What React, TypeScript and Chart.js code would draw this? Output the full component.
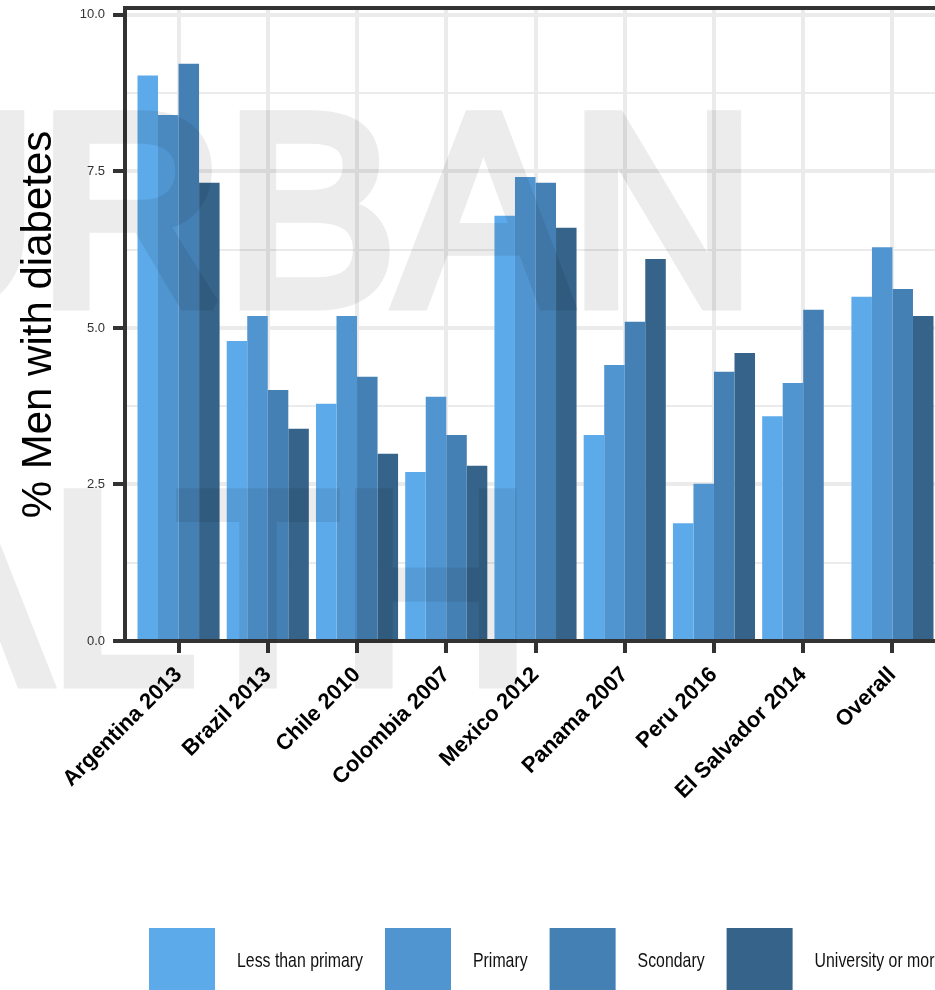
import React, { useEffect, useRef } from 'react';
import { Chart, registerables } from 'chart.js';

Chart.register(...registerables);

const CATEGORIES = [
  'Argentina 2013',
  'Brazil 2013',
  'Chile 2010',
  'Colombia 2007',
  'Mexico 2012',
  'Panama 2007',
  'Peru 2016',
  'El Salvador 2014',
  'Overall',
];
const LESS_THAN_PRIMARY = [9.03, 4.79, 3.79, 2.7, 6.79, 3.29, 1.88, 3.59, 5.5];
const PRIMARY = [8.4, 5.19, 5.19, 3.9, 7.41, 4.41, 2.51, 4.12, 6.29];
const SECONDARY = [9.22, 4.01, 4.22, 3.29, 7.32, 5.1, 4.3, 5.29, 5.62];
const UNIVERSITY = [7.32, 3.39, 2.99, 2.8, 6.6, 6.1, 4.6, null, 5.19];
const SERIES_LABELS = ['Less than primary', 'Primary', 'Scondary', 'University or more'];
const SERIES_COLORS = ['#5DAAEA', '#5095D0', '#4580B5', '#366389'];
const Y_TICKS = [0, 1.25, 2.5, 3.75, 5, 6.25, 7.5, 8.75, 10];
const Y_MAJOR_STEP = 2.5;
const Y_TITLE = '% Men with diabetes';
const WATERMARK_LINES = ['URBAN', 'HEALTH'];

const FONT = "'Liberation Sans', Arial, Helvetica, sans-serif";
const CANVAS_W = 1000;
const CANVAS_H = 990;

const isMajor = (v: number) => Math.abs(v / Y_MAJOR_STEP - Math.round(v / Y_MAJOR_STEP)) < 1e-6;

const legendPlugin = {
  id: 'customLegend',
  afterDraw(chart: any) {
    const ctx = chart.ctx as CanvasRenderingContext2D;
    const box = 66;
    const gap = 22;
    const top = 928;
    const sx = 0.755;
    let x = 149;
    ctx.save();
    ctx.font = `21px ${FONT}`;
    ctx.textBaseline = 'middle';
    ctx.textAlign = 'left';
    chart.data.datasets.forEach((ds: any) => {
      ctx.fillStyle = ds.backgroundColor;
      ctx.fillRect(x, top, box, box);
      x += box + gap;
      const w = ctx.measureText(ds.label).width * sx;
      ctx.save();
      ctx.translate(x, top + box / 2);
      ctx.scale(sx, 1);
      ctx.fillStyle = '#111111';
      ctx.fillText(ds.label, 0, 0);
      ctx.restore();
      x += w + gap;
    });
    ctx.restore();
  },
};

const watermarkPlugin = {
  id: 'watermark',
  afterDraw(chart: any) {
    const ctx = chart.ctx as CanvasRenderingContext2D;
    const off = document.createElement('canvas');
    off.width = chart.width;
    off.height = chart.height;
    const o = off.getContext('2d');
    if (!o) return;
    o.font = `272px ${FONT}`;
    o.textAlign = 'right';
    o.textBaseline = 'alphabetic';
    o.fillStyle = '#000';
    o.strokeStyle = '#000';
    o.lineWidth = 13;
    o.lineJoin = 'miter';
    o.miterLimit = 2;
    const spots = [
      [756, 304, 0.95],
      [532, 682, 0.98],
    ];
    WATERMARK_LINES.forEach((t, i) => {
      o.save();
      o.translate(spots[i][0], spots[i][1]);
      o.scale(spots[i][2], 1);
      o.fillText(t, 0, 0);
      o.strokeText(t, 0, 0);
      o.restore();
    });
    ctx.save();
    ctx.globalAlpha = 0.075;
    ctx.drawImage(off, 0, 0);
    ctx.restore();
  },
};

export default function App() {
  const ref = useRef<HTMLCanvasElement | null>(null);

  useEffect(() => {
    if (!ref.current) return;
    const series = [LESS_THAN_PRIMARY, PRIMARY, SECONDARY, UNIVERSITY];
    const chart = new Chart(ref.current, {
      type: 'bar',
      data: {
        datasets: series.map((vals, si) => ({
          label: SERIES_LABELS[si],
          data: CATEGORIES.map((_, i) => ({ x: i, y: vals[i] })),
          backgroundColor: SERIES_COLORS[si],
          borderWidth: 0,
          categoryPercentage: 0.92,
          barPercentage: 1.0,
        })),
      },
      options: {
        responsive: false,
        animation: false,
        layout: { padding: { top: 8, right: CANVAS_W - 946, bottom: 0, left: 0 } },
        plugins: {
          legend: { display: false },
          tooltip: { enabled: false },
          title: { display: false },
        },
        scales: {
          x: {
            type: 'linear',
            position: 'bottom',
            min: -0.6,
            max: CATEGORIES.length - 1 + 0.6,
            offset: false,
            afterBuildTicks: (scale: any) => {
              scale.ticks = CATEGORIES.map((_, i) => ({ value: i }));
            },
            afterFit: (scale: any) => {
              scale.height = CANVAS_H - 641;
              scale.paddingLeft = 0;
              scale.paddingRight = 0;
            },
            grid: {
              offset: false,
              color: '#ebebeb',
              lineWidth: 4,
              drawTicks: true,
              tickLength: 12,
              tickWidth: 4,
              tickColor: '#333333',
            },
            border: { display: true, color: '#333333', width: 4, z: 1 },
            ticks: {
              autoSkip: false,
              maxRotation: 45,
              minRotation: 45,
              padding: 9,
              color: '#000000',
              font: { family: FONT, size: 22, weight: 'bold' },
              callback: (v: any) => CATEGORIES[Math.round(Number(v))] ?? '',
            },
          },
          xTop: {
            type: 'linear',
            position: 'top',
            min: -0.6,
            max: CATEGORIES.length - 1 + 0.6,
            grid: { display: false, drawTicks: false },
            ticks: { display: false },
            border: { display: true, color: '#333333', width: 4, z: 1 },
            afterFit: (scale: any) => {
              scale.height = 0;
              scale.paddingLeft = 0;
              scale.paddingRight = 0;
            },
          },
          y: {
            type: 'linear',
            min: 0,
            max: 10.11,
            afterBuildTicks: (scale: any) => {
              scale.ticks = Y_TICKS.map((v) => ({ value: v }));
            },
            afterFit: (scale: any) => {
              scale.width = 125;
              scale.paddingTop = 0;
              scale.paddingBottom = 0;
            },
            grid: {
              color: '#ebebeb',
              lineWidth: (c: any) => (c.tick && isMajor(c.tick.value) ? 4 : 2),
              drawTicks: true,
              tickLength: 12,
              tickWidth: 4,
              tickColor: (c: any) => (c.tick && isMajor(c.tick.value) ? '#333333' : 'rgba(0,0,0,0)'),
            },
            border: { display: true, color: '#333333', width: 4, z: 1 },
            ticks: {
              padding: 8,
              color: '#333333',
              font: { family: FONT, size: 13 },
              callback: (v: any) => (isMajor(Number(v)) ? Number(v).toFixed(1) : ''),
            },
            title: {
              display: true,
              text: Y_TITLE,
              color: '#000000',
              font: { family: FONT, size: 42 },
              padding: { top: 14, bottom: 0 },
            },
          },
        },
      } as any,
      plugins: [legendPlugin, watermarkPlugin],
    });
    return () => chart.destroy();
  }, []);

  return (
    <div
      style={{
        position: 'absolute',
        left: 0,
        top: 0,
        width: 935,
        height: 990,
        overflow: 'hidden',
        background: '#ffffff',
      }}
    >
      <canvas ref={ref} width={CANVAS_W} height={CANVAS_H} style={{ display: 'block', width: CANVAS_W, height: CANVAS_H }} />
    </div>
  );
}
